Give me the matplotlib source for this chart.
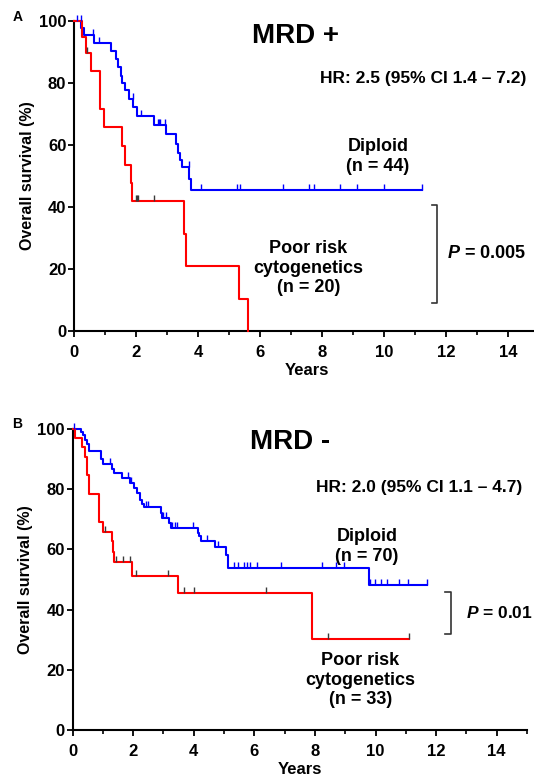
import matplotlib
matplotlib.use('Agg')
import matplotlib.pyplot as plt
import numpy as np
from matplotlib.ticker import MultipleLocator

plt.rcParams['font.family'] = ['Liberation Sans', 'DejaVu Sans']
plt.rcParams['font.weight'] = 'bold'
plt.rcParams['mathtext.fontset'] = 'custom'
plt.rcParams['mathtext.rm'] = 'Liberation Sans:bold'
plt.rcParams['mathtext.bf'] = 'Liberation Sans:bold'
plt.rcParams['mathtext.it'] = 'Liberation Sans:italic:bold'
plt.rcParams['mathtext.bfit'] = 'Liberation Sans:italic:bold'

# ---------------- Panel A: MRD + ----------------
a_dip_times = [0.24, 0.33, 0.65, 1.20, 1.34, 1.41, 1.50, 1.55, 1.63, 1.79, 1.91, 2.04,
               2.58, 2.96, 3.28, 3.36, 3.41, 3.48, 3.72, 3.78]
a_dip_surv = [97.7, 95.4, 93.0, 90.4, 87.7, 85.1, 82.4, 80.0, 77.6, 74.9, 72.2, 69.4,
              66.6, 63.5, 60.2, 57.5, 55.2, 53.0, 48.9, 45.5]
a_dip_end = 11.24
a_dip_cens = [0.10, 0.22, 0.61, 0.81, 1.89, 2.17, 2.70, 2.74, 2.78, 2.94, 3.70,
              4.10, 5.25, 5.35, 6.73, 7.58, 7.75, 8.58, 9.12, 10.01, 11.24]

a_poor_times = [0.27, 0.40, 0.54, 0.85, 0.97, 1.54, 1.66, 1.84, 1.87, 3.55, 3.61, 5.33, 5.62]
a_poor_surv = [95.0, 89.7, 83.8, 71.6, 65.7, 59.7, 53.6, 47.8, 41.8, 31.4, 20.9, 10.4, 0.0]
a_poor_end = 5.62
a_poor_cens = [0.41, 1.99, 2.03, 2.07, 2.58]

# ---------------- Panel B: MRD - ----------------
b_dip_times = [0.28, 0.36, 0.41, 0.47, 0.56, 0.93, 1.02, 1.30, 1.36, 1.63, 1.91, 2.02,
               2.13, 2.22, 2.30, 2.36, 2.91, 2.97, 3.19, 3.24, 4.13, 4.19, 4.24, 4.69,
               5.08, 5.13, 9.77]
b_dip_surv = [99.0, 97.9, 96.5, 95.0, 92.8, 90.0, 88.5, 86.8, 85.3, 83.6, 82.2, 80.5,
              78.7, 76.5, 75.2, 74.0, 72.2, 70.4, 68.8, 67.1, 65.4, 64.3, 62.7, 60.7,
              58.1, 53.8, 48.1]
b_dip_end = 11.71
b_dip_cens = [0.05, 1.23, 1.83, 1.92, 2.42, 2.48, 2.99, 3.09, 3.29, 3.38, 3.46, 3.97,
              4.45, 4.80, 5.33, 5.46, 5.67, 5.76, 5.86, 6.09, 6.88, 8.25, 8.70, 8.96,
              9.83, 9.97, 10.17, 10.39, 10.79, 11.07, 11.71]

b_poor_times = [0.08, 0.33, 0.41, 0.49, 0.55, 0.89, 1.02, 1.30, 1.33, 1.36, 1.97, 3.47, 7.90]
b_poor_surv = [96.9, 94.0, 90.8, 84.7, 78.3, 69.0, 65.9, 62.7, 59.0, 55.8, 51.2, 45.5, 30.3]
b_poor_end = 11.10
b_poor_cens = [1.07, 1.45, 1.66, 1.91, 2.11, 3.16, 3.69, 4.02, 6.37, 8.44, 11.10]

x_ticks = [0, 2, 4, 6, 8, 10, 12, 14]
y_ticks = [0, 20, 40, 60, 80, 100]

BLUE = '#0000ff'
RED = '#ff0000'
CENS_RED = '#3a3a3a'

W, H = 534, 779
fig = plt.figure(figsize=(W / 100, H / 100), dpi=100)


def level_at(times, surv, t):
    idx = np.searchsorted(np.asarray(times), t, side='right')
    return 100.0 if idx == 0 else surv[idx - 1]


def draw_curve(ax, times, surv, end, cens, color, ccolor):
    xs = [0.0] + list(times) + [end]
    ys = [100.0] + list(surv) + [surv[-1]]
    ax.step(xs, ys, where='post', color=color, lw=1.5, clip_on=False, zorder=3)
    cy = [level_at(times, surv, t) for t in cens]
    ax.plot(cens, cy, linestyle='none', marker=2, markersize=4.5,
            markeredgewidth=1.0, color=ccolor, clip_on=False, zorder=4)


def style_axes(ax):
    ax.set_xlim(0, 15)
    ax.set_ylim(0, 100)
    for s in ['top', 'right']:
        ax.spines[s].set_visible(False)
    for s in ['left', 'bottom']:
        ax.spines[s].set_linewidth(1.5)
    ax.set_xticks(x_ticks)
    ax.set_yticks(y_ticks)
    ax.xaxis.set_minor_locator(MultipleLocator(1))
    ax.tick_params(axis='both', which='major', direction='out', length=4.5,
                   width=1.3, labelsize=12)
    ax.tick_params(axis='x', which='minor', direction='out', length=3, width=1.2)
    ax.tick_params(axis='x', which='major', pad=5.5)
    ax.tick_params(axis='y', which='major', pad=1)
    ax.set_xlabel('Years', fontsize=12, fontweight='bold', labelpad=2.5)
    ax.set_ylabel('Overall survival (%)', fontsize=11.5, fontweight='bold', labelpad=3)
    for lab in ax.get_xticklabels() + ax.get_yticklabels():
        lab.set_fontweight('bold')


def bracket(ax, x, x_arm, y0, y1):
    ax.plot([x_arm, x, x, x_arm], [y1, y1, y0, y0], color='#333333', lw=1.2,
            clip_on=False, zorder=2)


# Panel A
axA = fig.add_axes([74 / W, (H - 331) / H, 465 / W, 310 / H])
style_axes(axA)
draw_curve(axA, a_dip_times, a_dip_surv, a_dip_end, a_dip_cens, BLUE, BLUE)
draw_curve(axA, a_poor_times, a_poor_surv, a_poor_end, a_poor_cens, RED, CENS_RED)
axA.text(7.16, 95.2, 'MRD +', fontsize=20, fontweight='bold', ha='center', va='center')
axA.text(14.6, 81.6, 'HR: 2.5 (95% CI 1.4 \u2013 7.2)', fontsize=12.5,
         fontweight='bold', ha='right', va='center')
axA.text(9.8, 56.3, 'Diploid\n(n = 44)', fontsize=13, fontweight='bold',
         ha='center', va='center', linespacing=1.2)
axA.text(7.56, 20.2, 'Poor risk\ncytogenetics\n(n = 20)', fontsize=13,
         fontweight='bold', ha='center', va='center', linespacing=1.2)
bracket(axA, 11.72, 11.54, 8.9, 40.6)
axA.text(12.02, 25.0, r'$\mathit{P}$ = 0.005', fontsize=13, fontweight='bold',
         ha='left', va='center')

# Panel B
axB = fig.add_axes([72.5 / W, (H - 730) / H, 454.5 / W, 301 / H])
style_axes(axB)
draw_curve(axB, b_dip_times, b_dip_surv, b_dip_end, b_dip_cens, BLUE, BLUE)
draw_curve(axB, b_poor_times, b_poor_surv, b_poor_end, b_poor_cens, RED, CENS_RED)
axB.text(7.18, 95.8, 'MRD -', fontsize=20, fontweight='bold', ha='center', va='center')
axB.text(14.84, 80.5, 'HR: 2.0 (95% CI 1.1 \u2013 4.7)', fontsize=12.5,
         fontweight='bold', ha='right', va='center')
axB.text(9.72, 61.0, 'Diploid\n(n = 70)', fontsize=13, fontweight='bold',
         ha='center', va='center', linespacing=1.2)
axB.text(9.5, 16.6, 'Poor risk\ncytogenetics\n(n = 33)', fontsize=13,
         fontweight='bold', ha='center', va='center', linespacing=1.2)
bracket(axB, 12.5, 12.3, 32.0, 46.0)
axB.text(13.0, 38.8, r'$\mathit{P}$ = 0.01', fontsize=12.5, fontweight='bold',
         ha='left', va='center')

fig.text(18 / W, 1 - 17 / H, 'A', fontsize=10, fontweight='bold', ha='center', va='center')
fig.text(17 / W, 1 - 424 / H, 'B', fontsize=10, fontweight='bold', ha='center', va='center')

fig.savefig('out.png', dpi=100)
